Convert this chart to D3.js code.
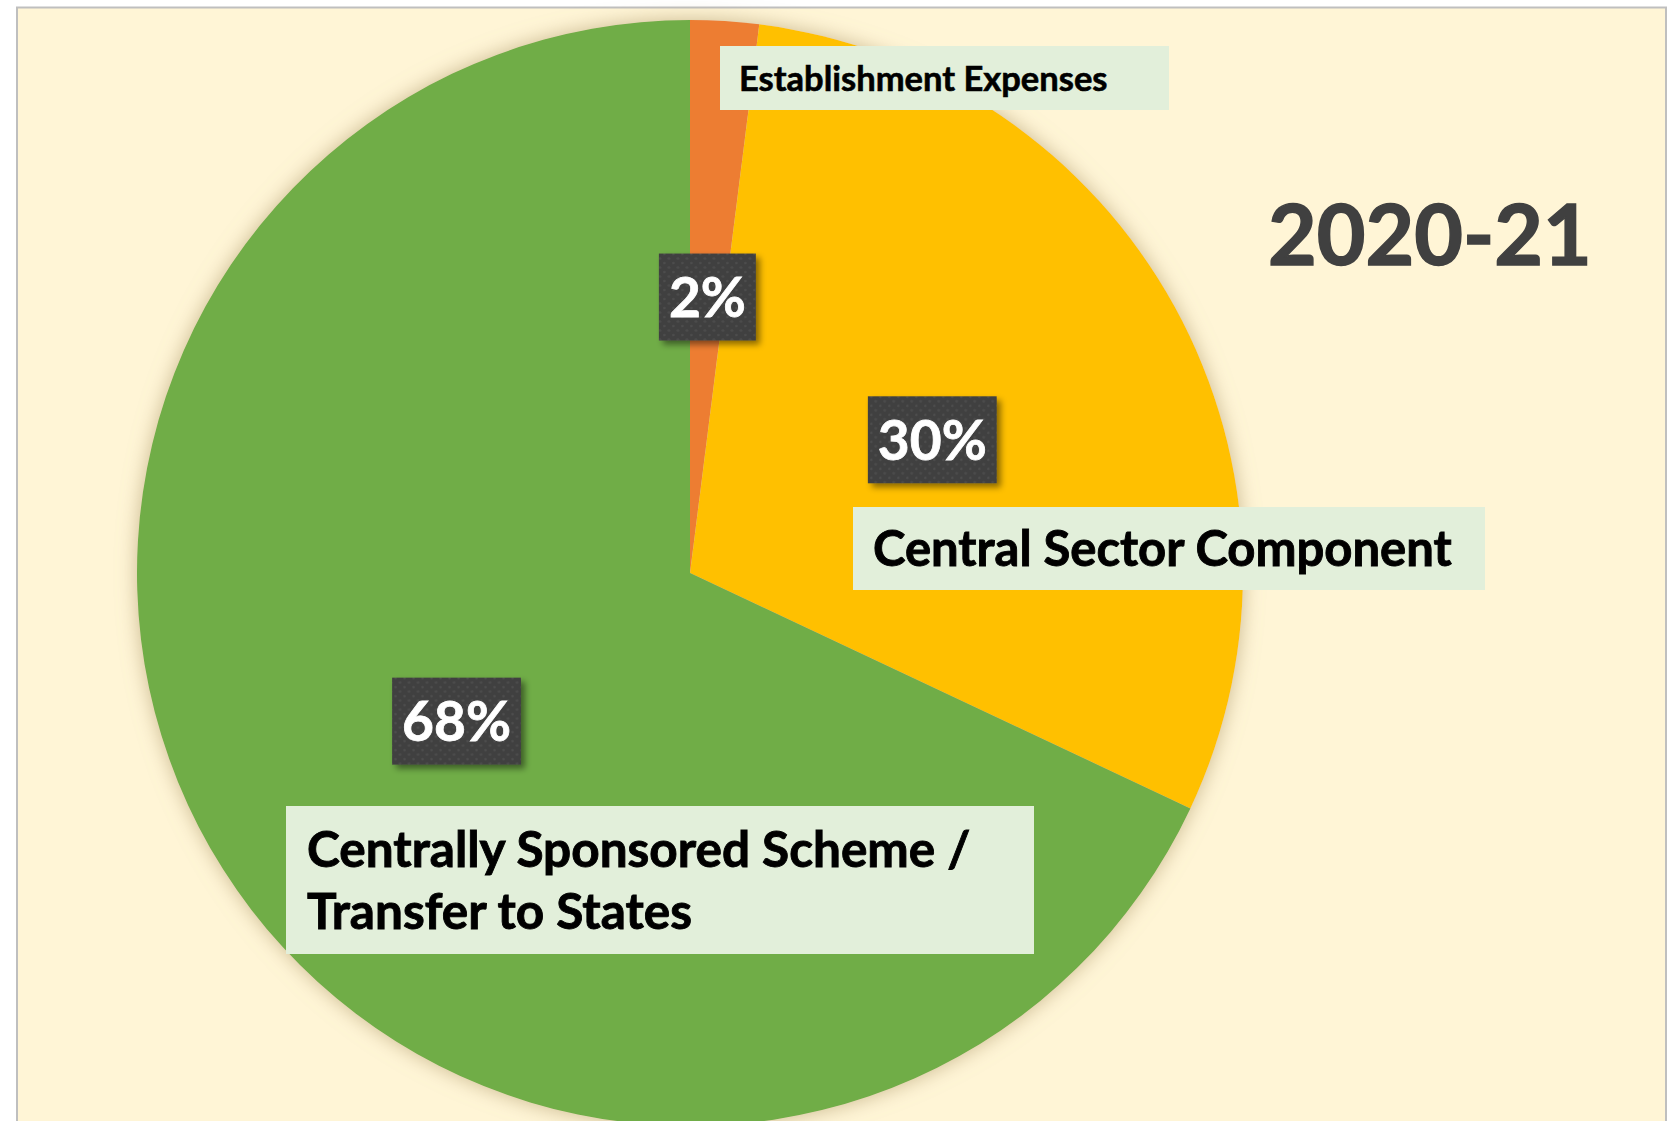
<!DOCTYPE html>
<html>
<head>
<meta charset="utf-8">
<script src="https://cdn.jsdelivr.net/npm/d3@7"></script>
<style>
  html, body { margin: 0; padding: 0; background: #fff; }
  svg { display: block; }
  text { font-family: Lato, "Open Sans", sans-serif; font-weight: 700; }
</style>
</head>
<body>
<div id="chart"></div>
<script>
// chart data
const categories = ["Establishment Expenses", "Central Sector Component", "Centrally Sponsored Scheme / Transfer to States"]
const shares = [2, 30, 68]
const pctLabels = ["2%", "30%", "68%"]
const sliceColors = ["#ED7D31", "#FFC000", "#70AD47"]
const yearLabel = "2020-21"

// category label boxes as Excel placed them
const catBoxes = [
    { x: 720, y: 46, w: 449, h: 64, size: 34.5, lines: ["Establishment Expenses"], tx: 739, ty: 91 },
    { x: 853, y: 507, w: 632, h: 83, size: 49, lines: ["Central Sector Component"], tx: 873, ty: 566 },
    { x: 286, y: 806, w: 748, h: 148, size: 49.5, lines: ["Centrally Sponsored Scheme /", "Transfer to States"], tx: 307, ty: 867 }
]

var W = 1680, H = 1121
var cx = 690, cy = 573, R = 553

var svg = d3.select("#chart").append("svg")
    .attr("width", W)
    .attr("height", H)

var defs = svg.append("defs")

// soft glow round the pie
var glow = defs.append("filter").attr("id", "pieShadow")
    .attr("x", "-10%").attr("y", "-10%").attr("width", "120%").attr("height", "120%")
glow.append("feGaussianBlur").attr("in", "SourceAlpha").attr("stdDeviation", 10).attr("result", "blur")
glow.append("feFlood").attr("flood-color", "#b8a478").attr("flood-opacity", 0.75)
glow.append("feComposite").attr("in2", "blur").attr("operator", "in").attr("result", "shadow")
var gm = glow.append("feMerge")
gm.append("feMergeNode").attr("in", "shadow")
gm.append("feMergeNode").attr("in", "SourceGraphic")

// drop shadow for the dark value boxes
var ds = defs.append("filter").attr("id", "boxShadow")
    .attr("x", "-20%").attr("y", "-20%").attr("width", "150%").attr("height", "150%")
ds.append("feDropShadow").attr("dx", 4).attr("dy", 4).attr("stdDeviation", 3)
    .attr("flood-color", "#000").attr("flood-opacity", 0.45)

// dotted dark fill
var pat = defs.append("pattern").attr("id", "dots")
    .attr("width", 9).attr("height", 9).attr("patternUnits", "userSpaceOnUse")
pat.append("rect").attr("width", 9).attr("height", 9).attr("fill", "#404040")
pat.append("circle").attr("cx", 2).attr("cy", 2).attr("r", 1.3).attr("fill", "#4d4d4d")
pat.append("circle").attr("cx", 6.5).attr("cy", 6.5).attr("r", 1.3).attr("fill", "#4d4d4d")

// background panel
svg.append("rect")
    .attr("x", 17).attr("y", 7.5)
    .attr("width", 1649).attr("height", 1130)
    .attr("fill", "#FFF5D6")
    .attr("stroke", "#BFBFBF")
    .attr("stroke-width", 2)

var pie = d3.pie().sort(null).value(d => d)
var arcs = pie(shares)
var arc = d3.arc().innerRadius(0).outerRadius(R)

var g = svg.append("g").attr("transform", `translate(${cx},${cy})`)

g.append("g").attr("filter", "url(#pieShadow)")
    .selectAll("path")
    .data(arcs)
    .join("path")
    .attr("d", arc)
    .attr("fill", (d, i) => sliceColors[i])

// title
svg.append("text")
    .attr("x", 1268).attr("y", 265)
    .attr("fill", "#404040")
    .attr("stroke", "#404040")
    .attr("stroke-width", 1.5)
    .style("font-size", "84px")
    .text(yearLabel)

// category labels
var cat = svg.selectAll(".cat")
    .data(catBoxes)
    .join("g")
    .attr("class", "cat")

cat.append("rect")
    .attr("x", d => d.x).attr("y", d => d.y)
    .attr("width", d => d.w).attr("height", d => d.h)
    .attr("fill", "#E2EFDA")

cat.each(function(d) {
    var t = d3.select(this).append("text")
        .attr("fill", "#000")
        .attr("stroke", "#000")
        .attr("stroke-width", d.size > 40 ? 0.9 : 0.6)
        .style("font-size", d.size + "px")
    d.lines.forEach((line, i) => {
        t.append("tspan")
            .attr("x", d.tx)
            .attr("y", d.ty + i * 62)
            .text(line)
    })
})

// value boxes at the slice centroids
var val = g.selectAll(".val")
    .data(arcs)
    .join("g")
    .attr("class", "val")
    .attr("transform", d => `translate(${arc.centroid(d)})`)

val.append("text")
    .attr("text-anchor", "middle")
    .attr("dy", "0.36em")
    .attr("fill", "#fff")
    .attr("stroke", "#fff")
    .attr("stroke-width", 0.8)
    .style("font-size", "55px")
    .text((d, i) => pctLabels[i])

val.each(function() {
    var grp = d3.select(this)
    var bb = grp.select("text").node().getBBox()
    var padX = 10, h = 87
    grp.insert("rect", "text")
        .attr("x", bb.x - padX)
        .attr("y", -h / 2)
        .attr("width", bb.width + padX * 2)
        .attr("height", h)
        .attr("fill", "url(#dots)")
        .attr("filter", "url(#boxShadow)")
})
</script>
</body>
</html>
